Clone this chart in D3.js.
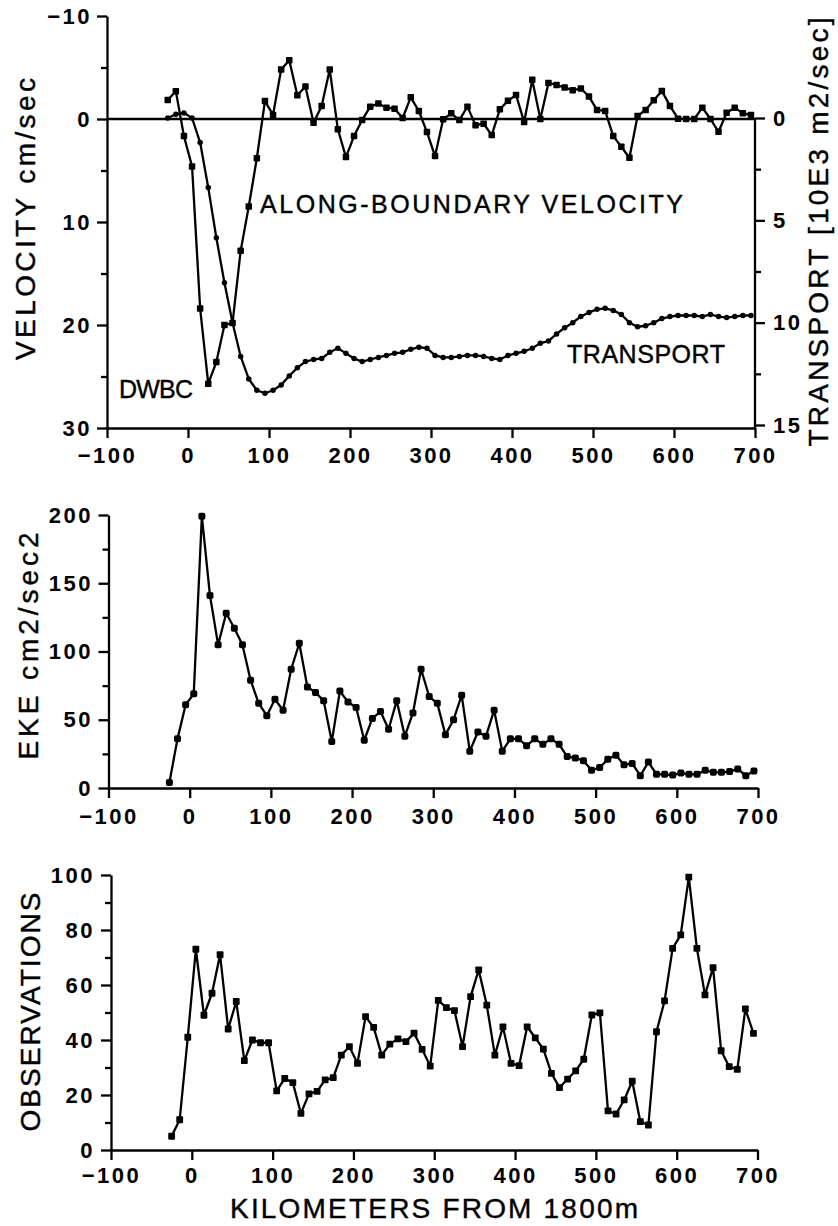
<!DOCTYPE html>
<html><head><meta charset="utf-8">
<script src="https://cdn.jsdelivr.net/npm/d3@7"></script>
<style>
html,body{margin:0;padding:0;background:#fff;}
svg{display:block;background:#fff;}
.tick text{font-family:"Liberation Sans",Arial,sans-serif;font-weight:bold;font-size:22px;letter-spacing:2.5px;fill:#000;}
.title{font-family:"Liberation Sans",Arial,sans-serif;font-size:28px;fill:#000;stroke:#000;stroke-width:0.4px;}
.note{font-family:"Liberation Sans",Arial,sans-serif;font-size:25px;fill:#000;stroke:#000;stroke-width:0.4px;}
</style></head><body>
<svg id="chart" width="838" height="1226"></svg>
<script>
// ---------- data ----------
const distanceKm = [-25,-15,-5,5,15,25,35,45,55,65,75,85,95,105,115,125,135,145,155,165,175,185,195,205,215,225,235,245,255,265,275,285,295,305,315,325,335,345,355,365,375,385,395,405,415,425,435,445,455,465,475,485,495,505,515,525,535,545,555,565,575,585,595,605,615,625,635,645,655,665,675,685,695];

const alongBoundaryVelocity = [-1.85,-2.7,1.66,4.6,18.4,25.7,23.6,20.0,19.8,12.8,
 8.5,3.8,-1.75,-0.4,-4.8,-5.7,-2.3,-3.15,0.36,-1.27,
 -4.8,1.0,3.7,1.66,0.1,-1.2,-1.5,-1.1,-1.0,-0.1,
 -2.1,-0.78,1.27,3.6,0.03,-0.55,0.1,-1.2,0.6,0.46,
 1.56,-0.94,-1.76,-2.34,0.3,-3.8,0,-3.5,-3.3,-3.05,
 -2.8,-2.96,-2.18,-0.88,-0.78,1.66,2.7,3.77,-0.29,-0.88,
 -1.82,-2.73,-1.27,-0.03,0,0,-1.1,0,1.24,-0.6,
 -1.1,-0.55,-0.4];

const transport = [0,-0.18,-0.25,0,1.2,3.4,5.85,8.05,10.0,11.65,
 12.75,13.3,13.45,13.3,13.05,12.6,12.2,11.9,11.8,11.75,
 11.45,11.25,11.5,11.75,11.9,11.8,11.7,11.6,11.5,11.45,
 11.3,11.2,11.25,11.6,11.7,11.7,11.65,11.6,11.6,11.65,
 11.75,11.8,11.6,11.5,11.4,11.25,11.0,10.9,10.55,10.25,
 10.0,9.7,9.5,9.35,9.3,9.4,9.6,10.0,10.2,10.15,
 10.0,9.8,9.7,9.65,9.65,9.65,9.7,9.6,9.7,9.75,
 9.7,9.65,9.65];

const eke = [4,36,61,69,199,141,105,128,117,105,
 79,62,53,65,57,87,106,74,70,64,
 34,71,63,59,35,51,56,43,64,38,
 55,87,67,62,39,50,68,27,41,38,
 57,27,36,36,31,36,32,36,32,23,
 22,20,13,15,21,24,17,18,9,19,
 10,10,9.5,11,10,10,13,11.5,11.5,12,
 14,9,12.5];

const observations = [5,11,41,73,49,57,71,44,54,32.5,
 40,39,39,21.5,26,24.5,13.3,20.4,21.3,25.5,
 26.3,34.5,37.6,31.5,48.5,44.6,34.5,38.5,40.4,39.4,
 42.5,36.6,30.5,54.4,51.8,50.7,37.6,55.8,65.5,52.7,
 34.5,44.8,31.5,30.7,44.8,40.8,36.7,27.9,22.7,25.8,
 28.8,33,49.1,49.9,14.2,13.1,18.2,25,10.3,9.1,
 43,54.2,73.3,78.2,99.2,73.3,56.4,66.3,36.1,30.3,
 29.3,51.3,42.4];

const xTicks = [-100,0,100,200,300,400,500,600,700];
const velTicks = [-10,0,10,20,30];
const velMinorTicks = [-5,5,15,25];
const transportTicks = [0,5,10,15];
const transportMinorTicks = [2.5,7.5,12.5];
const ekeTicks = [0,50,100,150,200];
const ekeMinorTicks = [25,75,125,175];
const obsTicks = [0,20,40,60,80,100];
const obsMinorTicks = [10,30,50,70,90];

// ---------- drawing ----------
const svg = d3.select("#chart");
svg.append("rect").attr("width",838).attr("height",1226).attr("fill","#fff");
const fmt = d3.format("d");
const LW = 2.3;

function styleAxis(g){
  g.selectAll("path,line").attr("stroke","#000").attr("stroke-width",LW);
  g.attr("font-family",null).attr("font-size",null);
}
function bottomAxis(scale, y, pad){
  const g = svg.append("g").attr("transform",`translate(0,${y})`)
    .call(d3.axisBottom(scale).tickValues(xTicks).tickSize(10).tickSizeOuter(0).tickPadding(pad).tickFormat(fmt));
  styleAxis(g);
}
function leftAxis(scale, x, major, minor, pad){
  const g = svg.append("g").attr("transform",`translate(${x},0)`)
    .call(d3.axisLeft(scale).tickValues(major).tickSize(10).tickSizeOuter(0).tickPadding(pad).tickFormat(fmt));
  styleAxis(g);
  const m = svg.append("g").attr("transform",`translate(${x},0)`)
    .call(d3.axisLeft(scale).tickValues(minor).tickSize(6).tickFormat(""));
  m.select(".domain").remove();
  styleAxis(m);
}
function series(x, y, vals, marker, size){
  const pts = distanceKm.map((k,i)=>({k, v: vals[i]}));
  svg.append("path").datum(pts)
    .attr("fill","none").attr("stroke","#000").attr("stroke-width",LW).attr("stroke-linejoin","round")
    .attr("d", d3.line().x(d=>x(d.k)).y(d=>y(d.v)));
  const g = svg.append("g");
  if (marker === "circle") {
    g.selectAll("circle").data(pts).join("circle")
      .attr("cx",d=>x(d.k)).attr("cy",d=>y(d.v)).attr("r",size/2).attr("fill","#000");
  } else {
    g.selectAll("rect").data(pts).join("rect")
      .attr("x",d=>x(d.k)-size/2).attr("y",d=>y(d.v)-size/2)
      .attr("width",size).attr("height",size).attr("rx", marker==="round"?2:0.8).attr("fill","#000");
  }
}
function vTitle(text, xBase, yCenter, len){
  svg.append("text").attr("class","title")
    .attr("transform",`translate(${xBase},${yCenter}) rotate(-90)`)
    .attr("text-anchor","middle").attr("textLength",len).attr("lengthAdjust","spacing")
    .text(text);
}
function note(text, x, y, len, cls){
  svg.append("text").attr("class",cls||"note").attr("x",x).attr("y",y)
    .attr("textLength",len).attr("lengthAdjust","spacing").text(text);
}

// ---- Panel 1: velocity & transport ----
const x1 = d3.scaleLinear().domain([-100,700]).range([107,755]);
const yVel = d3.scaleLinear().domain([-10,30]).range([16,428]);
const yTr = d3.scaleLinear().domain([0,15]).range([118,425]);

svg.append("line").attr("x1",x1(-100)).attr("x2",x1(700)).attr("y1",yVel(0)).attr("y2",yVel(0))
  .attr("stroke","#000").attr("stroke-width",LW);
leftAxis(yVel, x1(-100), velTicks, velMinorTicks, 5);
bottomAxis(x1, 428, 9);
{
  const g = svg.append("g").attr("transform",`translate(${x1(700)},0)`)
    .call(d3.axisRight(yTr).tickValues(transportTicks).tickSize(10).tickSizeOuter(0).tickPadding(8).tickFormat(fmt));
  g.select(".domain").remove();
  styleAxis(g);
  const m = svg.append("g").attr("transform",`translate(${x1(700)},0)`)
    .call(d3.axisRight(yTr).tickValues(transportMinorTicks).tickSize(6).tickFormat(""));
  m.select(".domain").remove();
  styleAxis(m);
  svg.append("line").attr("x1",x1(700)).attr("x2",x1(700)).attr("y1",yTr(0)).attr("y2",428)
    .attr("stroke","#000").attr("stroke-width",LW);
}
series(x1, yTr, transport, "circle", 5.5);
series(x1, yVel, alongBoundaryVelocity, "square", 6.5);

vTitle("VELOCITY cm/sec", 35, 219, 282);
vTitle("TRANSPORT [10E3 m2/sec]", 828, 232, 429);
note("ALONG-BOUNDARY VELOCITY", 260, 213, 423);
note("TRANSPORT", 567, 363, 158);
note("DWBC", 119, 398, 74);

// ---- Panel 2: EKE ----
const x2 = d3.scaleLinear().domain([-100,700]).range([108.5,758]);
const yEke = d3.scaleLinear().domain([0,200]).range([788,515]);
leftAxis(yEke, x2(-100), ekeTicks, ekeMinorTicks, 5.5);
bottomAxis(x2, 788, 10);
series(x2, yEke, eke, "round", 7);
vTitle("EKE cm2/sec2", 38, 646, 227);

// ---- Panel 3: Observations ----
const x3 = d3.scaleLinear().domain([-100,700]).range([111,757.5]);
const yObs = d3.scaleLinear().domain([0,100]).range([1150,875]);
leftAxis(yObs, x3(-100), obsTicks, obsMinorTicks, 6);
bottomAxis(x3, 1150, 7);
series(x3, yObs, observations, "square", 6.8);
vTitle("OBSERVATIONS", 40, 1012, 239);
note("KILOMETERS FROM 1800m", 230, 1218, 408, "title");
</script>
</body></html>
